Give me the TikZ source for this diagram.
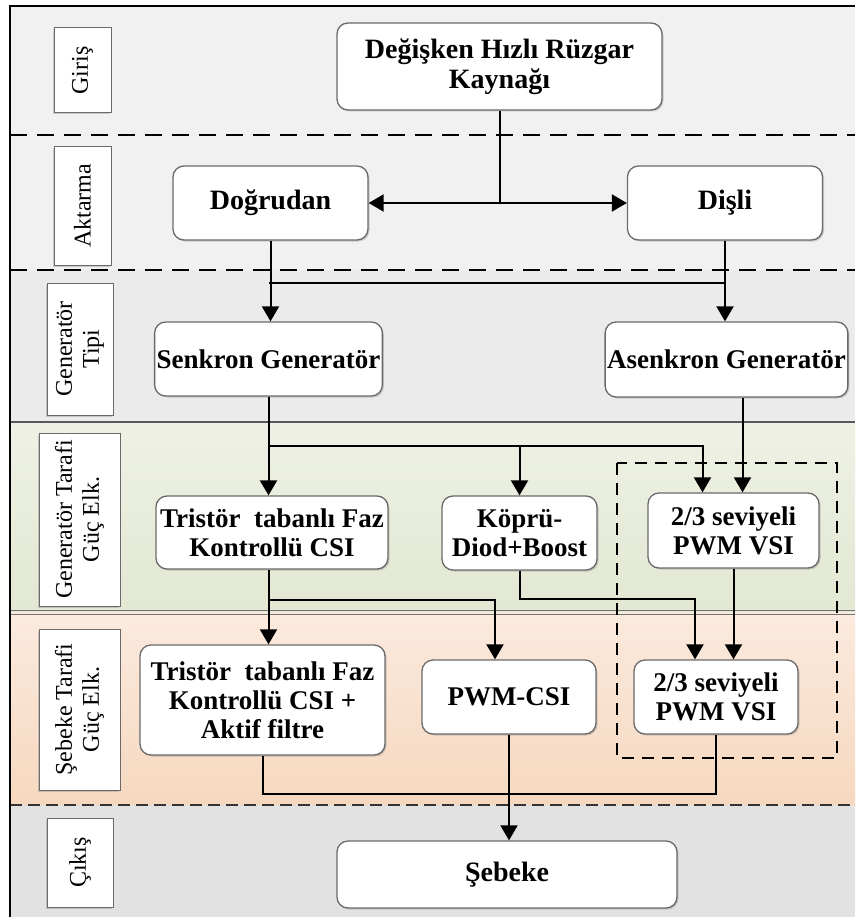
\documentclass[tikz,border=0pt]{standalone}
\usepackage{fontspec}
\setmainfont{Liberation Serif}
\usetikzlibrary{arrows.meta,positioning,shadows,calc}
\definecolor{lanegray}{HTML}{F1F1F1}
\definecolor{lanemid}{HTML}{EBEBEB}
\definecolor{lanegreent}{HTML}{EEF1E5}
\definecolor{lanegreenb}{HTML}{E2E8D2}
\definecolor{lanepeacht}{HTML}{FBEADE}
\definecolor{lanepeachb}{HTML}{F6D8BF}
\definecolor{laneout}{HTML}{E2E2E2}
\definecolor{boxline}{HTML}{6A6A6A}

\begin{document}
\begin{tikzpicture}[x=1pt,y=-1pt,
          box/.style={draw=boxline, fill=white, rounded corners=11pt, line width=1.3pt, inner sep=2pt, align=center,
            font=\fontsize{27}{29}\selectfont\bfseries, drop shadow={shadow xshift=1.5pt,shadow yshift=-1.5pt,opacity=0.35}},
          lanebox/.style={draw=boxline, fill=white, line width=1pt, inner sep=1pt, align=center, rotate=90,
            font=\fontsize{24}{27}\selectfont, drop shadow={shadow xshift=-1.5pt,shadow yshift=-1.5pt,opacity=0.35}},
          conn/.style={line width=2pt},
          arr/.style={-{Triangle[length=15pt,width=17pt]}, line width=2pt},
          arrboth/.style={{Triangle[length=15pt,width=17pt]}-{Triangle[length=15pt,width=17pt]}, line width=2pt},
          lanesep/.style={dash pattern=on 17pt off 10pt, line width=1.5pt}]
        \useasboundingbox (0,0) rectangle (855,917);
        % lanes
        \fill[lanegray] (10,6) rectangle (855,270);
        \fill[lanemid] (10,270) rectangle (855,422);
        \shade[top color=lanegreent, bottom color=lanegreenb] (10,422) rectangle (855,612);
        \shade[top color=lanepeacht, bottom color=lanepeachb] (10,612) rectangle (855,805);
        \fill[laneout] (10,805) rectangle (855,917);
        \draw[lanesep] (10,135) -- (855,135);
        \draw[lanesep] (10,270) -- (855,270);
        \draw[black!65, line width=1.5pt] (10,422) -- (855,422);
        \draw[black!55, line width=1pt] (10,610) -- (855,610) (10,614) -- (855,614);
        \draw[black!80, dash pattern=on 12pt off 6pt, line width=1.8pt] (10,805) -- (855,805);
        \draw[line width=2pt] (10,917) -- (10,6) -- (855,6);
        % lane titles
        \node[lanebox, minimum width=85pt, minimum height=57pt] (lgiris) at (82.5,70.5) {Giriş};
        \node[lanebox, minimum width=118pt, minimum height=57pt] (laktar) at (82.5,206) {Aktarma};
        \node[lanebox, minimum width=132pt, minimum height=66pt] (ltip) at (80,349) {Generatör\\Tipi};
        \node[lanebox, minimum width=173pt, minimum height=81pt] (lgen) at (79.5,519.5) {Generatör Tarafi\\Güç Elk.};
        \node[lanebox, minimum width=161pt, minimum height=81pt] (lseb) at (79.5,709.5) {Şebeke Tarafi\\Güç Elk.};
        \node[lanebox, minimum width=89pt, minimum height=66pt] (lcikis) at (80,862.5) {Çıkış};
        % blocks
        \node[box, minimum width=325pt, minimum height=87pt, font=\fontsize{28}{30}\selectfont\bfseries] (src) at (499.5,66.5) {Değişken Hızlı Rüzgar\\Kaynağı};
        \node[box, minimum width=195pt, minimum height=74pt, font=\fontsize{28}{30}\selectfont\bfseries] (direct) at (270.5,203) {Doğrudan};
        \node[box, minimum width=195pt, minimum height=74pt, font=\fontsize{28}{30}\selectfont\bfseries] (gear) at (725,203) {Dişli};
        \node[box, minimum width=227pt, minimum height=74pt] (sync) at (268.5,359) {Senkron Generatör};
        \node[box, minimum width=239pt, minimum height=75pt] (async) at (726.5,359.5) {Asenkron Generatör};
        \node[box, minimum width=232pt, minimum height=73pt] (thyr) at (272,532.5) {Tristör~~tabanlı Faz\\Kontrollü CSI};
        \node[box, minimum width=155pt, minimum height=74pt] (bridge) at (519.5,533) {Köprü-\\Diod+Boost};
        \node[box, minimum width=171pt, minimum height=75pt] (vsig) at (733.5,530.5) {2/3 seviyeli\\PWM VSI};
        \node[box, minimum width=245pt, minimum height=110pt] (thyrf) at (262.5,700) {Tristör~~tabanlı Faz\\Kontrollü CSI +\\Aktif filtre};
        \node[box, minimum width=174pt, minimum height=74pt] (pwmcsi) at (509,697) {PWM-CSI};
        \node[box, minimum width=164pt, minimum height=74pt] (vsin) at (716,697) {2/3 seviyeli\\PWM VSI};
        \node[box, minimum width=340pt, minimum height=67pt, font=\fontsize{28}{30}\selectfont\bfseries] (grid) at (507,874.5) {Şebeke};
        % VSI group
        \draw[dash pattern=on 12pt off 8pt, line width=1.5pt] (617,463) rectangle (837,758);
        % connectors
        \draw[conn] (src.south) -- (src.south |- direct.east);
        \draw[arrboth] (direct.east) -- (gear.west);
        \coordinate (ja) at ($(direct.south)!0.52!(sync.north)$);
        \draw[arr] (direct.south) -- (direct.south |- sync.north);
        \draw[arr] (gear.south) -- (gear.south |- async.north);
        \draw[conn] (ja) -- (ja -| gear.south);
        \coordinate (jb) at ($(sync.south)!0.5!(thyr.north)$);
        \draw[arr] (sync.south) -- (sync.south |- thyr.north);
        \draw[arr] (jb) -| ([xshift=-31pt]vsig.north);
        \draw[arr] (jb -| bridge.north) -- (bridge.north);
        \draw[arr] ([xshift=9pt]vsig.north |- async.south) -- ([xshift=9pt]vsig.north);
        \coordinate (jc) at ($(thyr.south)!0.4!(thyrf.north)$);
        \draw[arr] (sync.south |- thyr.south) -- (sync.south |- thyrf.north);
        \draw[arr] (jc -| sync.south) -| ([xshift=-14pt]pwmcsi.north);
        \draw[arr] (bridge.south) -- ++(0,28) -| ([xshift=-21pt]vsin.north);
        \draw[arr] (vsig.south) -- (vsig.south |- vsin.north);
        \draw[conn] (thyrf.south) -- ++(0,38) -| (vsin.south);
        \draw[arr] (pwmcsi.south) -- (pwmcsi.south |- grid.north);
      \end{tikzpicture}
\end{document}
